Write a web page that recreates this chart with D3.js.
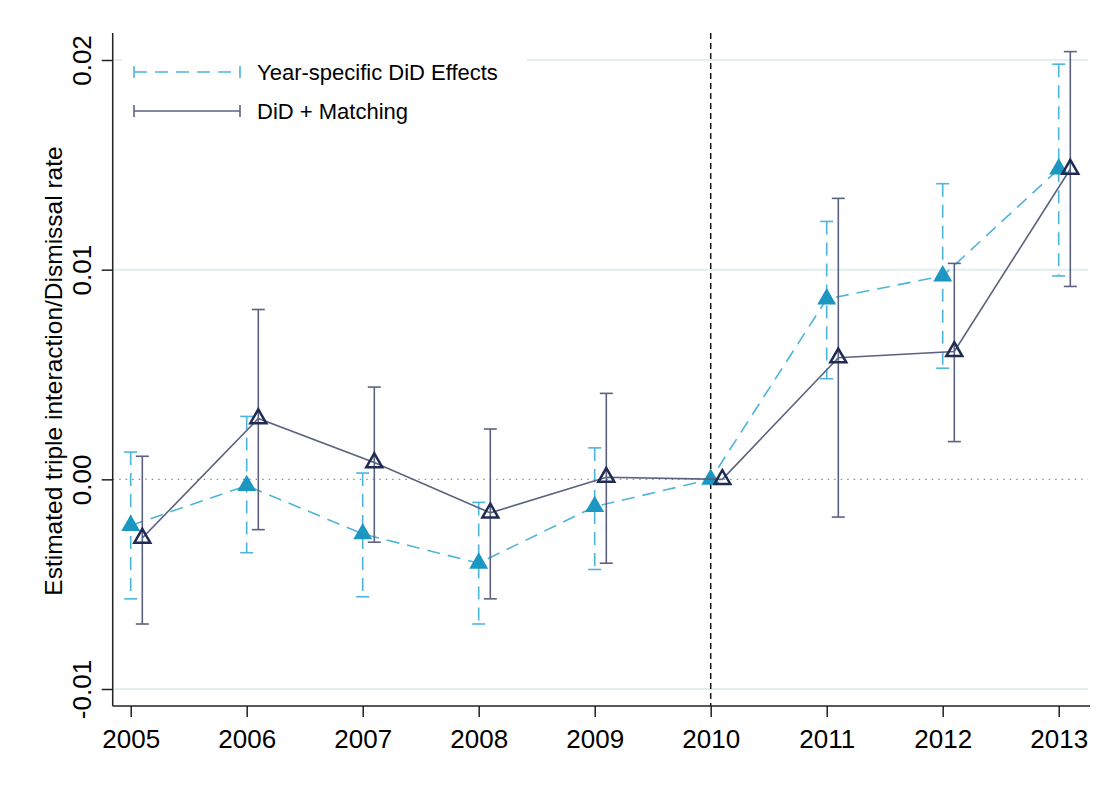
<!DOCTYPE html>
<html><head><meta charset="utf-8">
<script src="https://cdn.jsdelivr.net/npm/d3@7"></script>
<style>body{margin:0;background:#fff;}svg{display:block;font-family:Arial,"Liberation Sans",sans-serif;}</style>
</head><body>
<script>
const years = [2005,2006,2007,2008,2009,2010,2011,2012,2013];
const didEst = [-0.0022,-0.0003,-0.0026,-0.0040,-0.0013,0.0000,0.0086,0.0097,0.0148];
const didLo  = [-0.0057,-0.0035,-0.0056,-0.0069,-0.0043,0.0000,0.0048,0.0053,0.0097];
const didHi  = [0.0013,0.0030,0.0003,-0.0011,0.0015,0.0000,0.0123,0.0141,0.0198];
const matEst = [-0.0028,0.0029,0.0008,-0.0016,0.0001,0.0000,0.0058,0.0061,0.0148];
const matLo  = [-0.0069,-0.0024,-0.0030,-0.0057,-0.0040,0.0000,-0.0018,0.0018,0.0092];
const matHi  = [0.0011,0.0081,0.0044,0.0024,0.0041,0.0000,0.0134,0.0103,0.0204];
const yTicks = [-0.01,0.00,0.01,0.02];
const yTickLabels = ["-0.01","0.00","0.01","0.02"];
const seriesNames = ["Year-specific DiD Effects","DiD + Matching"];
const yTitle = "Estimated triple interaction/Dismissal rate";

(function(){
const W=1105,H=807;
const svg=d3.select("body").append("svg").attr("width",W).attr("height",H);
const x=d3.scaleLinear().domain([2005,2013]).range([130.7,1058.7]);
const y=d3.scaleLinear().domain([-0.01,0.02]).range([689,60]);
const pL=112.7, pR=1090, pT=33, pB=706;

// gridlines
svg.append("g").selectAll("line").data(yTicks.filter(d=>d!==0)).join("line")
  .attr("x1",pL).attr("x2",1088).attr("y1",d=>y(d)).attr("y2",d=>y(d))
  .attr("stroke","#e4eef1").attr("stroke-width",2);
// zero line dotted
svg.append("line").attr("x1",pL).attr("x2",1088).attr("y1",y(0)).attr("y2",y(0))
  .attr("stroke","#8a9090").attr("stroke-width",1.3).attr("stroke-dasharray","1.5,5");
// vertical dashed at 2010
svg.append("line").attr("x1",x(2010)).attr("x2",x(2010)).attr("y1",pT).attr("y2",pB)
  .attr("stroke","#111").attr("stroke-width",1.5).attr("stroke-dasharray","6,4");

// axes
const yAxis=svg.append("g").attr("transform",`translate(${pL},0)`)
  .call(d3.axisLeft(y).tickValues(yTicks).tickFormat((d,i)=>yTickLabels[i]).tickSizeOuter(0).tickSize(11));
yAxis.select(".domain").attr("d",`M0,${pT}V${pB}`).attr("stroke","#222").attr("stroke-width",1.5);
yAxis.selectAll(".tick line").attr("stroke","#222").attr("stroke-width",1.5);
yAxis.selectAll(".tick text").attr("font-size",26).attr("fill","#000")
  .attr("text-anchor","middle").attr("transform","rotate(-90)").attr("x",0).attr("y",-21.5).attr("dy","0");

const xAxis=svg.append("g").attr("transform",`translate(0,${pB})`)
  .call(d3.axisBottom(x).tickValues(years).tickFormat(d3.format("d")).tickSizeOuter(0).tickSize(11));
xAxis.select(".domain").attr("d",`M${pL},0H${pR}`).attr("stroke","#222").attr("stroke-width",1.5);
xAxis.selectAll(".tick line").attr("stroke","#222").attr("stroke-width",1.5);
xAxis.selectAll(".tick text").attr("font-size",26).attr("fill","#000").attr("y",24);

svg.append("text").attr("transform",`translate(62,${371}) rotate(-90)`)
  .attr("text-anchor","middle").attr("font-size",24.5).attr("fill","#000").text(yTitle);

const off=0.1;
const cy="#1b97c2", cyL="#4fb4da", dk="#1f2b52", dkL="#5a6280";
const did=years.map((yr,i)=>({x:yr,e:didEst[i],lo:didLo[i],hi:didHi[i]}));
const mat=years.map((yr,i)=>({x:yr+off,e:matEst[i],lo:matLo[i],hi:matHi[i]}));
const line=d3.line().x(d=>x(d.x)).y(d=>y(d.e));

function drawSeries(data,lineCol,dash,fill,stroke,sw){
  const g=svg.append("g");
  g.append("path").datum(data).attr("d",line).attr("fill","none")
    .attr("stroke",lineCol).attr("stroke-width",1.6).attr("stroke-dasharray",dash);
  const eb=data.filter(d=>d.hi!==d.lo);
  g.selectAll(".v").data(eb).join("line").attr("x1",d=>x(d.x)).attr("x2",d=>x(d.x))
    .attr("y1",d=>y(d.hi)).attr("y2",d=>y(d.lo)).attr("stroke",lineCol).attr("stroke-width",1.6).attr("stroke-dasharray",dash);
  g.selectAll(".c").data(eb.flatMap(d=>[{x:d.x,v:d.hi},{x:d.x,v:d.lo}])).join("line")
    .attr("x1",d=>x(d.x)-6.5).attr("x2",d=>x(d.x)+6.5).attr("y1",d=>y(d.v)).attr("y2",d=>y(d.v))
    .attr("stroke",lineCol).attr("stroke-width",1.6);
  g.selectAll(".m").data(data).join("path")
    .attr("d",d3.symbol().type(d3.symbolTriangle).size(sw?110:155)).attr("transform",d=>`translate(${x(d.x)},${y(d.e)})`)
    .attr("fill",fill).attr("stroke",stroke).attr("stroke-width",sw||0);
}
drawSeries(did,cyL,"13,8",cy,"none",0);
drawSeries(mat,dkL,null,"none",dk,2.5);

// legend
const lg=svg.append("g");
lg.append("rect").attr("x",122).attr("y",45).attr("width",405).attr("height",85).attr("fill","#fff");
const legItems=[{n:seriesNames[0],c:cyL,dash:"13,8",yy:72},{n:seriesNames[1],c:dkL,dash:null,yy:111}];
legItems.forEach(it=>{
  lg.append("line").attr("x1",134).attr("x2",240).attr("y1",it.yy).attr("y2",it.yy)
    .attr("stroke",it.c).attr("stroke-width",1.6).attr("stroke-dasharray",it.dash);
  [134,240].forEach(xx=>lg.append("line").attr("x1",xx).attr("x2",xx).attr("y1",it.yy-6).attr("y2",it.yy+6)
    .attr("stroke",it.c).attr("stroke-width",1.6));
  lg.append("text").attr("x",257).attr("y",it.yy).attr("dy","0.35em").attr("font-size",22).attr("fill","#000").text(it.n);
});
})();
</script>
</body></html>
